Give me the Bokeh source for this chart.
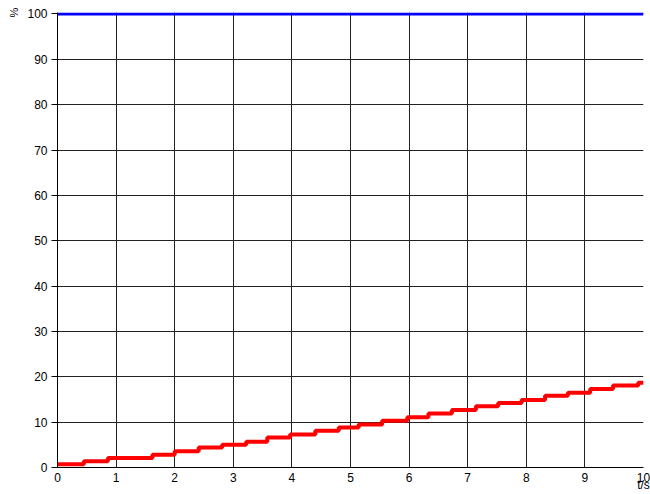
from bokeh.embed import file_html
from bokeh.models import FixedTicker, Range1d
from bokeh.plotting import figure
from bokeh.resources import INLINE

# Time (s) at which each level starts, and the level reached (%)
step_times = [0.0, 0.45, 0.86, 1.62, 2.0, 2.41, 2.81, 3.22, 3.58, 3.97,
              4.40, 4.80, 5.14, 5.54, 5.97, 6.33, 6.73, 7.14, 7.52, 7.92,
              8.32, 8.71, 9.09, 9.48, 9.91, 10.0]
step_levels = [0.7, 1.4, 2.1, 2.8, 3.6, 4.4, 5.0, 5.7, 6.6, 7.3,
               8.1, 8.8, 9.5, 10.3, 11.1, 11.9, 12.7, 13.5, 14.2, 14.9,
               15.8, 16.5, 17.3, 18.1, 18.7, 18.7]

# Reference level held over the whole run
ref_times = [0.0, 10.0]
ref_levels = [100.0, 100.0]

x_ticks = [0, 1, 2, 3, 4, 5, 6, 7, 8, 9, 10]
y_ticks = [0, 10, 20, 30, 40, 50, 60, 70, 80, 90, 100]

FONT = "Liberation Sans"

p = figure(width=650, height=494, output_backend="svg", toolbar_location=None,
           x_range=Range1d(0, 10), y_range=Range1d(0, 100.33),
           min_border_left=57, min_border_right=7,
           min_border_top=12, min_border_bottom=22)
p.background_fill_color = "white"
p.border_fill_color = "white"
p.outline_line_color = None

for ax in (p.xaxis[0], p.yaxis[0]):
    ax.major_label_text_font = FONT
    ax.major_label_text_font_size = "12px"
    ax.major_label_text_color = "black"
    ax.axis_line_color = "black"
    ax.minor_tick_line_color = None
    ax.major_tick_line_color = "black"
    ax.axis_label_text_font = FONT
    ax.axis_label_text_font_style = "normal"
    ax.axis_label_text_color = "black"
    ax.axis_label_align = "end"

p.xaxis.ticker = FixedTicker(ticks=x_ticks)
p.yaxis.ticker = FixedTicker(ticks=y_ticks)
p.xaxis.major_tick_out = 0
p.xaxis.major_tick_in = 0
p.xaxis.major_label_standoff = 5
p.yaxis.major_tick_out = 6
p.yaxis.major_tick_in = 0
p.yaxis.major_label_standoff = 4

# Axis titles sit at the far end of each axis
p.yaxis.axis_label = "%"
p.yaxis.axis_label_text_font_size = "11px"
p.yaxis.axis_label_standoff = 4
p.xaxis.axis_label = "t/s"
p.xaxis.axis_label_text_font_size = "12px"
p.xaxis.axis_label_standoff = -7

p.xgrid.ticker = FixedTicker(ticks=x_ticks)
p.ygrid.ticker = FixedTicker(ticks=y_ticks)
p.grid.grid_line_color = "#222222"
p.grid.grid_line_width = 1
p.grid.grid_line_alpha = 1.0

p.line(ref_times, ref_levels, line_color="#0000ff", line_width=3)
p.step(step_times, step_levels, mode="after", line_color="#ff0000", line_width=4)

open("out.html", "w").write(file_html(p, INLINE))
